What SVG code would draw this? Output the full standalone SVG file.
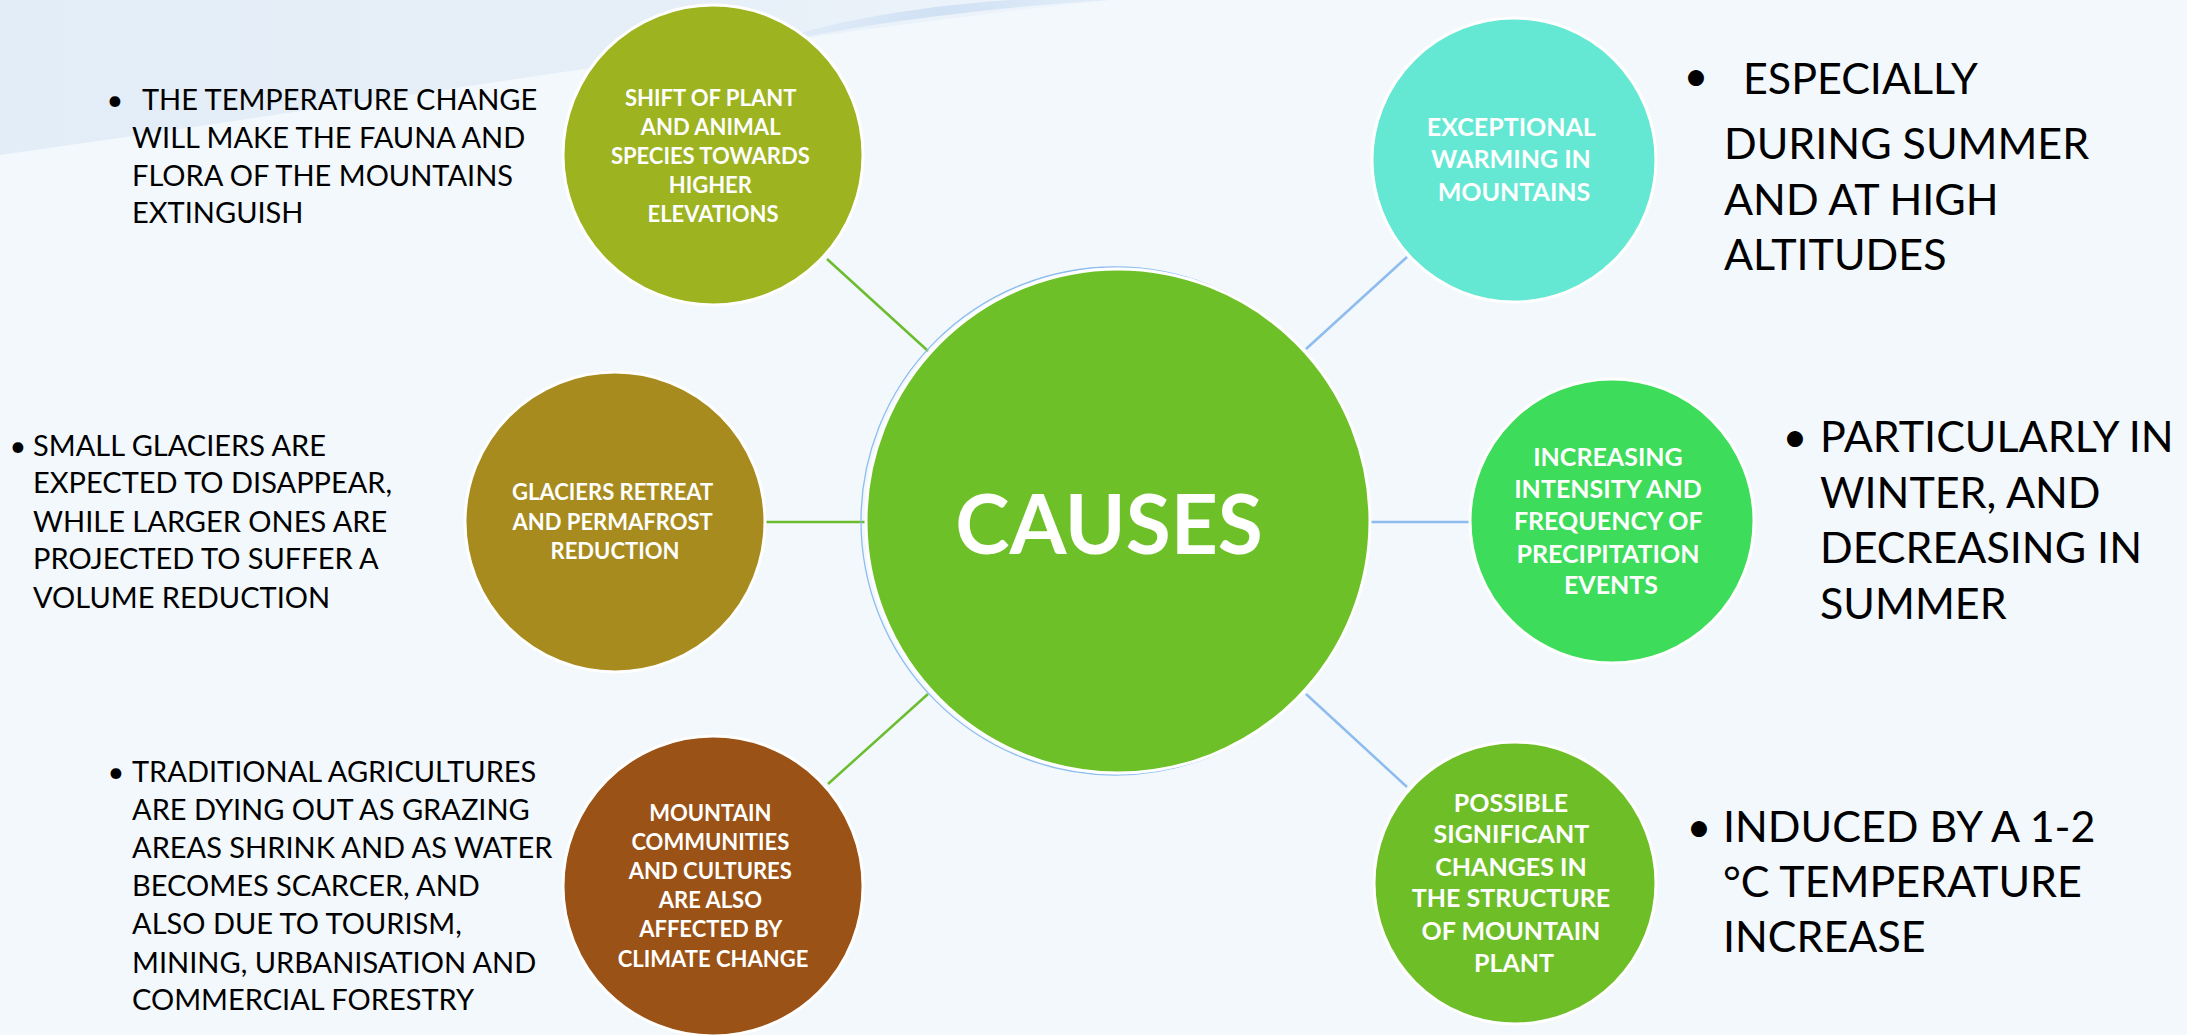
<svg xmlns="http://www.w3.org/2000/svg" width="2187" height="1035" viewBox="0 0 2187 1035">
  <defs>
    <linearGradient id="haze" x1="0" y1="0" x2="1" y2="0">
      <stop offset="0" stop-color="#e3edf7"/>
      <stop offset="0.6" stop-color="#e6eff8"/>
      <stop offset="1" stop-color="#eef4fb"/>
    </linearGradient>
    <linearGradient id="streak" x1="0" y1="0" x2="1" y2="0">
      <stop offset="0" stop-color="#d6e5f5" stop-opacity="0.3"/>
      <stop offset="0.5" stop-color="#cfe1f4"/>
      <stop offset="1" stop-color="#d9e7f6" stop-opacity="0.6"/>
    </linearGradient>
    <style>
      .node { stroke: #ffffff; stroke-width: 3; }
      .lbl { font-family: Lato, "Open Sans", "DejaVu Sans", sans-serif; font-weight: 700; fill: #ffffff; text-anchor: middle; }
      .small { font-size: 22px; }
      .mid { font-size: 25px; }
      .note { font-family: Lato, "Open Sans", "DejaVu Sans", sans-serif; fill: #000000; }
      .left { font-size: 29px; }
      .right { font-size: 43px; }
      .green { stroke: #6bbd2e; stroke-width: 2.5; }
      .blue { stroke: #8dbcee; stroke-width: 2.5; }
    </style>
  </defs>

  <!-- backdrop -->
  <rect x="0" y="0" width="2187" height="1035" fill="#f3f8fd"/>
  <path d="M0,0 L1110,0 C 820,30 420,95 0,155 Z" fill="url(#haze)"/>
  <path d="M760,46 C 860,24 980,8 1110,0 L 1010,0 C 900,8 820,24 760,46 Z" fill="url(#streak)"/>

  <!-- connectors -->
  <g id="connectors" fill="none">
    <line class="green" x1="827" y1="259" x2="928" y2="351"/>
    <line class="green" x1="766" y1="522" x2="865" y2="522"/>
    <line class="green" x1="828" y1="784" x2="928" y2="694"/>
    <line class="blue" x1="1407" y1="257" x2="1306" y2="349"/>
    <line class="blue" x1="1370" y1="522" x2="1469" y2="522"/>
    <line class="blue" x1="1306" y1="694" x2="1407" y2="787"/>
  </g>

  <!-- hub -->
  <g id="causes">
    <circle cx="1115" cy="521" r="254" fill="none" stroke="#8dbcee" stroke-width="1.3"/>
    <circle class="node" cx="1118" cy="521" r="252" fill="#6ec028"/>
    <text class="lbl" x="1109" y="554" font-size="82">CAUSES</text>
  </g>

  <!-- outer nodes -->
  <g id="shift-species">
    <circle class="node" cx="713" cy="155" r="150" fill="#9db320"/>
    <text class="lbl small">
      <tspan x="713" y="106">SHIFT OF PLANT</tspan>
      <tspan x="713" y="135">AND ANIMAL</tspan>
      <tspan x="713" y="164">SPECIES TOWARDS</tspan>
      <tspan x="713" y="193">HIGHER</tspan>
      <tspan x="713" y="222">ELEVATIONS</tspan>
    </text>
  </g>

  <g id="glaciers">
    <circle class="node" cx="615" cy="522" r="150" fill="#a88b1e"/>
    <text class="lbl small">
      <tspan x="615" y="500">GLACIERS RETREAT</tspan>
      <tspan x="615" y="530">AND PERMAFROST</tspan>
      <tspan x="615" y="559">REDUCTION</tspan>
    </text>
  </g>

  <g id="communities">
    <circle class="node" cx="713" cy="886" r="150" fill="#9a5216"/>
    <text class="lbl small">
      <tspan x="713" y="821">MOUNTAIN</tspan>
      <tspan x="713" y="850">COMMUNITIES</tspan>
      <tspan x="713" y="879">AND CULTURES</tspan>
      <tspan x="713" y="908">ARE ALSO</tspan>
      <tspan x="713" y="937">AFFECTED BY</tspan>
      <tspan x="713" y="967">CLIMATE CHANGE</tspan>
    </text>
  </g>

  <g id="warming">
    <circle class="node" cx="1514" cy="160" r="142" fill="#64e8d4"/>
    <text class="lbl mid">
      <tspan x="1514" y="136">EXCEPTIONAL</tspan>
      <tspan x="1514" y="168">WARMING IN</tspan>
      <tspan x="1514" y="201">MOUNTAINS</tspan>
    </text>
  </g>

  <g id="precipitation">
    <circle class="node" cx="1612" cy="521" r="142" fill="#3ddc5a"/>
    <text class="lbl mid">
      <tspan x="1611" y="466">INCREASING</tspan>
      <tspan x="1611" y="498">INTENSITY AND</tspan>
      <tspan x="1611" y="530">FREQUENCY OF</tspan>
      <tspan x="1611" y="563">PRECIPITATION</tspan>
      <tspan x="1611" y="594">EVENTS</tspan>
    </text>
  </g>

  <g id="plant-structure">
    <circle class="node" cx="1515" cy="883" r="141" fill="#6ebe28"/>
    <text class="lbl mid">
      <tspan x="1514" y="812">POSSIBLE</tspan>
      <tspan x="1514" y="843">SIGNIFICANT</tspan>
      <tspan x="1514" y="876">CHANGES IN</tspan>
      <tspan x="1514" y="907">THE STRUCTURE</tspan>
      <tspan x="1514" y="940">OF MOUNTAIN</tspan>
      <tspan x="1514" y="972">PLANT</tspan>
    </text>
  </g>

  <!-- side notes -->
  <g id="note-fauna" class="note left">
    <text x="115" y="110" text-anchor="middle">•</text>
    <text>
      <tspan x="142" y="110">THE TEMPERATURE CHANGE</tspan>
      <tspan x="132" y="148">WILL MAKE THE FAUNA AND</tspan>
      <tspan x="132" y="186">FLORA OF THE MOUNTAINS</tspan>
      <tspan x="132" y="223">EXTINGUISH</tspan>
    </text>
  </g>

  <g id="note-glaciers" class="note left">
    <text x="18" y="456" text-anchor="middle">•</text>
    <text>
      <tspan x="33" y="456">SMALL GLACIERS ARE</tspan>
      <tspan x="33" y="493">EXPECTED TO DISAPPEAR,</tspan>
      <tspan x="33" y="532">WHILE LARGER ONES ARE</tspan>
      <tspan x="33" y="569">PROJECTED TO SUFFER A</tspan>
      <tspan x="33" y="608">VOLUME REDUCTION</tspan>
    </text>
  </g>

  <g id="note-agriculture" class="note left">
    <text x="116" y="782" text-anchor="middle">•</text>
    <text>
      <tspan x="132" y="782">TRADITIONAL AGRICULTURES</tspan>
      <tspan x="132" y="820">ARE DYING OUT AS GRAZING</tspan>
      <tspan x="132" y="858">AREAS SHRINK AND AS WATER</tspan>
      <tspan x="132" y="896">BECOMES SCARCER, AND</tspan>
      <tspan x="132" y="934">ALSO DUE TO TOURISM,</tspan>
      <tspan x="132" y="973">MINING, URBANISATION AND</tspan>
      <tspan x="132" y="1010">COMMERCIAL FORESTRY</tspan>
    </text>
  </g>

  <g id="note-summer" class="note right">
    <text x="1696" y="91" text-anchor="middle">•</text>
    <text>
      <tspan x="1743" y="94">ESPECIALLY</tspan>
      <tspan x="1724" y="159">DURING SUMMER</tspan>
      <tspan x="1724" y="215">AND AT HIGH</tspan>
      <tspan x="1724" y="270">ALTITUDES</tspan>
    </text>
  </g>

  <g id="note-winter" class="note right">
    <text x="1795" y="452" text-anchor="middle">•</text>
    <text>
      <tspan x="1820" y="452">PARTICULARLY IN</tspan>
      <tspan x="1820" y="508">WINTER, AND</tspan>
      <tspan x="1820" y="563">DECREASING IN</tspan>
      <tspan x="1820" y="619">SUMMER</tspan>
    </text>
  </g>

  <g id="note-increase" class="note right">
    <text x="1699" y="842" text-anchor="middle">•</text>
    <text>
      <tspan x="1723" y="842">INDUCED BY A 1-2</tspan>
      <tspan x="1723" y="897">°C TEMPERATURE</tspan>
      <tspan x="1723" y="952">INCREASE</tspan>
    </text>
  </g>
</svg>
